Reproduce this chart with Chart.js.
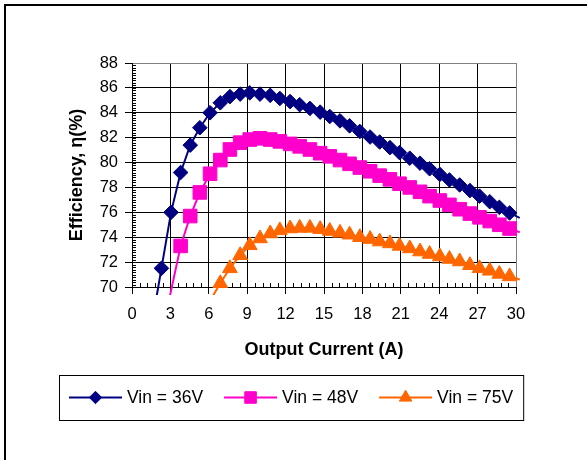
<!DOCTYPE html>
<html>
<head>
<meta charset="utf-8">
<title>Efficiency vs Output Current</title>
<script src="https://cdn.jsdelivr.net/npm/chart.js@4.4.0/dist/chart.umd.min.js"></script>
<style>
  html, body { margin: 0; padding: 0; background: #fff; }
  #wrap { position: relative; width: 587px; height: 460px; }
</style>
</head>
<body>
<div id="wrap"><canvas id="chart" width="587" height="460"></canvas></div>
<script>
// Output current (A), shared by all three curves
const currentA = [
  1.55, 2.3, 3.05, 3.8, 4.55, 5.3, 6.1, 6.9, 7.65, 8.45,
  9.2, 10.0, 10.8, 11.55, 12.35, 13.1, 13.9, 14.7, 15.45, 16.25,
  17.0, 17.8, 18.6, 19.35, 20.15, 20.9, 21.7, 22.5, 23.25, 24.05,
  24.8, 25.6, 26.4, 27.15, 27.95, 28.7, 29.5, 30.3
];

// Efficiency (%) per input voltage, null where there is no reading
const eff36 = [
  67.0, 71.5, 76.0, 79.2, 81.4, 82.8, 84.0, 84.8, 85.3, 85.5,
  85.6, 85.5, 85.4, 85.15, 84.9, 84.65, 84.35, 84.05, 83.7, 83.35,
  82.95, 82.5, 82.05, 81.65, 81.2, 80.8, 80.35, 79.95, 79.5, 79.05,
  78.6, 78.2, 77.75, 77.3, 76.85, 76.4, 75.95, 75.55
];
const eff48 = [
  null, 66.1, null, 73.3, 75.7, 77.6, 79.1, 80.2, 81.05, 81.6,
  81.85, 81.95, 81.85, 81.7, 81.5, 81.3, 81.05, 80.75, 80.5, 80.2,
  79.9, 79.6, 79.3, 78.95, 78.65, 78.3, 78.0, 77.65, 77.3, 76.95,
  76.6, 76.25, 75.9, 75.6, 75.3, 75.0, 74.7, 74.4
];
const eff75 = [
  null, null, null, null, null, null, 68.9, 70.3, 71.5, 72.55,
  73.35, 73.9, 74.3, 74.55, 74.7, 74.75, 74.75, 74.65, 74.5, 74.35,
  74.2, 74.0, 73.85, 73.65, 73.5, 73.3, 73.1, 72.85, 72.65, 72.45,
  72.25, 72.05, 71.75, 71.5, 71.3, 71.05, 70.85, 70.6
];

const seriesLabels = ['Vin = 36V', 'Vin = 48V', 'Vin = 75V'];

const xTicks = [0, 3, 6, 9, 12, 15, 18, 21, 24, 27, 30];
const yTicks = [70, 72, 74, 76, 78, 80, 82, 84, 86, 88];
const xMinorStep = 0.6;
const yMinorStep = 0.2;

const FONT = "'Liberation Sans', Arial, sans-serif";

function toPoints(values) {
  const pts = [];
  values.forEach((v, i) => {
    if (v !== null) pts.push({ x: currentA[i], y: v });
  });
  return pts;
}

function inRange(p) {
  return p && p.x >= 0 && p.x <= 30 && p.y >= 70 && p.y <= 88;
}

function makeSet(label, values, color, style, radius) {
  return {
    label: label,
    data: toPoints(values),
    borderColor: color,
    backgroundColor: color,
    borderWidth: 2,
    pointStyle: style,
    pointBackgroundColor: color,
    pointBorderColor: color,
    pointBorderWidth: 1,
    pointRadius: c => inRange(c.raw) ? radius : 0,
    legendRadius: radius * 0.85,
    tension: 0,
    clip: { left: 0, top: 0, right: 4, bottom: 8 }
  };
}

// white page, outer frame, minor ticks and the boxed legend
const decor = {
  id: 'decor',
  beforeDraw(chart) {
    const ctx = chart.ctx;
    ctx.save();
    ctx.fillStyle = '#fff';
    ctx.fillRect(0, 0, chart.width, chart.height);
    ctx.strokeStyle = '#000';
    ctx.lineWidth = 2;
    ctx.beginPath();
    ctx.moveTo(5, chart.height);
    ctx.lineTo(5, 5);
    ctx.lineTo(chart.width, 5);
    ctx.stroke();
    ctx.restore();
  },
  beforeDatasetsDraw(chart) {
    const ctx = chart.ctx;
    const xs = chart.scales.x, ys = chart.scales.y;
    const area = chart.chartArea;
    ctx.save();
    ctx.strokeStyle = '#000';
    ctx.lineWidth = 1;
    ctx.beginPath();
    for (let i = 1; i * xMinorStep < xs.max; i++) {
      const v = i * xMinorStep;
      if (Math.abs(v / 3 - Math.round(v / 3)) < 1e-6) continue;
      const px = Math.round(xs.getPixelForValue(v)) + 0.5;
      ctx.moveTo(px, area.bottom);
      ctx.lineTo(px, area.bottom - 4);
    }
    for (let i = 1; ys.min + i * yMinorStep < ys.max; i++) {
      const v = ys.min + i * yMinorStep;
      const py = Math.round(ys.getPixelForValue(v)) + 0.5;
      ctx.moveTo(area.left, py);
      ctx.lineTo(area.left + 4, py);
    }
    ctx.stroke();
    ctx.restore();
  },
  afterDraw(chart) {
    const ctx = chart.ctx;
    const sets = chart.data.datasets;
    const lineLen = 53, gap = 5, itemGap = 21, padL = 10, padR = 10;
    ctx.save();
    ctx.font = '17.5px ' + FONT;
    const widths = sets.map(ds => ctx.measureText(ds.label).width);
    let boxW = padL + padR + itemGap * (sets.length - 1);
    widths.forEach(w => { boxW += lineLen + gap + w; });
    const boxLeft = Math.round(chart.width / 2 - boxW / 2) - 2;
    const boxTop = 375, boxH = 45;
    const cy = boxTop + boxH / 2;

    ctx.strokeStyle = '#000';
    ctx.lineWidth = 1;
    ctx.strokeRect(boxLeft + 0.5, boxTop + 0.5, boxW, boxH);

    let x = boxLeft + padL;
    sets.forEach((ds, i) => {
      ctx.strokeStyle = ds.borderColor;
      ctx.fillStyle = ds.borderColor;
      ctx.lineWidth = 2;
      ctx.beginPath();
      ctx.moveTo(x, cy);
      ctx.lineTo(x + lineLen, cy);
      ctx.stroke();
      ctx.lineWidth = 1;
      Chart.helpers.drawPoint(ctx, {
        pointStyle: ds.pointStyle,
        radius: ds.legendRadius,
        rotation: 0,
        borderWidth: 1
      }, x + lineLen / 2, cy);
      ctx.fillStyle = '#000';
      ctx.textBaseline = 'middle';
      ctx.textAlign = 'left';
      ctx.fillText(ds.label, x + lineLen + gap, cy + 1);
      x += lineLen + gap + widths[i] + itemGap;
    });
    ctx.restore();
  }
};

new Chart(document.getElementById('chart'), {
  type: 'line',
  data: {
    datasets: [
      makeSet(seriesLabels[0], eff36, '#000080', 'rectRot', 7.3),
      makeSet(seriesLabels[1], eff48, '#ff00cc', 'rect', 9.6),
      makeSet(seriesLabels[2], eff75, '#ff6600', 'triangle', 8.5)
    ]
  },
  options: {
    responsive: false,
    animation: false,
    events: [],
    layout: { padding: { left: 66, top: 63, right: 71, bottom: 98.7 } },
    plugins: {
      legend: { display: false },
      tooltip: { enabled: false }
    },
    scales: {
      x: {
        type: 'linear',
        min: 0,
        max: 30,
        afterBuildTicks: s => { s.ticks = xTicks.map(v => ({ value: v })); },
        afterFit: s => { s.height = 74.3; },
        ticks: {
          color: '#000',
          font: { family: FONT, size: 16.5 },
          padding: 11,
          maxRotation: 0
        },
        grid: {
          color: c => (c.tick && c.tick.value === 30) ? '#808080' : '#000',
          tickColor: '#000',
          tickLength: 7,
          lineWidth: 1
        },
        border: { color: '#000', width: 1 },
        title: {
          display: true,
          text: 'Output Current (A)',
          color: '#000',
          font: { family: FONT, size: 18, weight: 'bold' },
          padding: 0
        }
      },
      y: {
        type: 'linear',
        min: 70,
        max: 88,
        afterBuildTicks: s => { s.ticks = yTicks.map(v => ({ value: v })); },
        afterFit: s => { s.width = 66; },
        ticks: {
          color: '#000',
          font: { family: FONT, size: 16.5 },
          padding: 7
        },
        grid: {
          color: c => (c.tick && c.tick.value === 88) ? '#808080' : '#000',
          tickColor: '#000',
          tickLength: 7,
          lineWidth: 1
        },
        border: { color: '#000', width: 1 },
        title: {
          display: true,
          text: 'Efficiency, η(%)',
          color: '#000',
          font: { family: FONT, size: 18, weight: 'bold' },
          padding: 0
        }
      }
    }
  },
  plugins: [decor]
});
</script>
</body>
</html>
